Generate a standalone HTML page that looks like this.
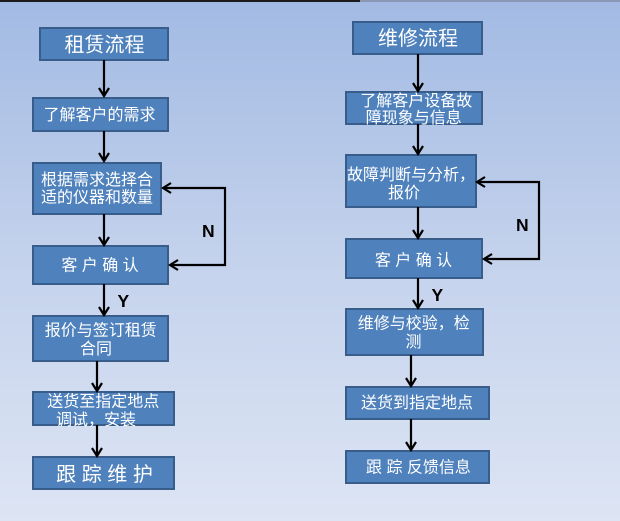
<!DOCTYPE html>
<html>
<head>
<meta charset="utf-8">
<style>
  html, body { margin:0; padding:0; }
  body { width:620px; height:521px; overflow:hidden; }
  svg { display:block; }
  .t { font-family: "Liberation Sans", "Noto Sans CJK SC", sans-serif; fill:#ffffff; }
  .lbl { font-family: "Liberation Sans", sans-serif; font-weight:bold; fill:#000; font-size:17.5px; }
  .bx { fill:#4F81BD; stroke:#385D8A; stroke-width:2; }
  .ln { stroke:#000; stroke-width:2.2; fill:none; stroke-linecap:butt; stroke-linejoin:miter; }
</style>
</head>
<body>
<svg width="620" height="521" viewBox="0 0 620 521" xmlns="http://www.w3.org/2000/svg">
  <defs>
    <linearGradient id="bg" x1="0" y1="0" x2="0" y2="1">
      <stop offset="0" stop-color="#A2BAE3"/>
      <stop offset="0.5" stop-color="#C4D2EC"/>
      <stop offset="1" stop-color="#DDE5F4"/>
    </linearGradient>
  </defs>
  <rect x="0" y="0" width="620" height="521" fill="url(#bg)"/>
  <rect x="0" y="0" width="360" height="2" fill="#1a1a1a"/>
  <rect x="360" y="0" width="260" height="2" fill="#8a98b5"/>

  <!-- LEFT COLUMN boxes -->
  <rect class="bx" x="40" y="28" width="128" height="32"/>
  <rect class="bx" x="33" y="98" width="135" height="33"/>
  <rect class="bx" x="33" y="163" width="128" height="51"/>
  <rect class="bx" x="33" y="246" width="135" height="38"/>
  <rect class="bx" x="33" y="316" width="135" height="45"/>
  <rect class="bx" x="33" y="392" width="141" height="33"/>
  <rect class="bx" x="33" y="457" width="141" height="32"/>

  <!-- RIGHT COLUMN boxes -->
  <rect class="bx" x="353" y="22" width="129" height="32"/>
  <rect class="bx" x="346" y="92" width="136" height="32"/>
  <rect class="bx" x="346" y="155" width="130" height="52"/>
  <rect class="bx" x="346" y="239" width="136" height="39"/>
  <rect class="bx" x="346" y="309" width="137" height="46"/>
  <rect class="bx" x="346" y="387" width="143" height="32"/>
  <rect class="bx" x="346" y="451" width="143" height="32"/>

  <!-- LEFT arrows -->
  <path class="ln" d="M104 60 V96 M99 88 L104 96 L109 88"/>
  <path class="ln" d="M104 131 V161 M99 153 L104 161 L109 153"/>
  <path class="ln" d="M104 214 V245 M99 237 L104 245 L109 237"/>
  <path class="ln" d="M104 284 V315 M99 307 L104 315 L109 307"/>
  <path class="ln" d="M97 361 V391 M92 383 L97 391 L102 383"/>
  <path class="ln" d="M97 425 V456 M92 448 L97 456 L102 448"/>
  <!-- left loop -->
  <path class="ln" d="M163 188 H225 V265 H170"/>
  <path class="ln" d="M171 183 L163 188 L171 193"/>
  <path class="ln" d="M178 260 L170 265 L178 270"/>

  <!-- RIGHT arrows -->
  <path class="ln" d="M418 54 V91 M413 83 L418 91 L423 83"/>
  <path class="ln" d="M418 124 V154 M413 146 L418 154 L423 146"/>
  <path class="ln" d="M418 207 V238 M413 230 L418 238 L423 230"/>
  <path class="ln" d="M418 278 V308 M413 300 L418 308 L423 300"/>
  <path class="ln" d="M411 355 V386 M406 378 L411 386 L416 378"/>
  <path class="ln" d="M411 419 V450 M406 442 L411 450 L416 442"/>
  <!-- right loop -->
  <path class="ln" d="M477 182 H539 V259 H484"/>
  <path class="ln" d="M485 177 L477 182 L485 187"/>
  <path class="ln" d="M492 254 L484 259 L492 264"/>

  <!-- labels N / Y -->
  <text class="lbl" x="202" y="237">N</text>
  <text class="lbl" x="516" y="231">N</text>
  <text class="lbl" x="117.5" y="307">Y</text>
  <text class="lbl" x="431.5" y="301">Y</text>

  <!-- LEFT texts -->
  <text class="t" font-size="20" x="104.5" y="51.6" text-anchor="middle">租赁流程</text>
  <text class="t" font-size="16" x="99.5" y="120" text-anchor="middle">了解客户的需求</text>
  <text class="t" font-size="16" x="97" y="185" text-anchor="middle">根据需求选择合</text>
  <text class="t" font-size="16" x="97" y="202.5" text-anchor="middle">适的仪器和数量</text>
  <text class="t" font-size="16" x="100" y="270.4" text-anchor="middle">客 户 确 认</text>
  <text class="t" font-size="16" x="100.8" y="335.6" text-anchor="middle">报价与签订租赁</text>
  <text class="t" font-size="16" x="96" y="354" text-anchor="middle">合同</text>
  <text class="t" font-size="16" x="103.3" y="406.6" text-anchor="middle">送货至指定地点</text>
  <text class="t" font-size="16" x="96" y="424.8" text-anchor="middle">调试，安装</text>
  <text class="t" font-size="20" x="104.5" y="481" text-anchor="middle">跟 踪 维 护</text>

  <!-- RIGHT texts -->
  <text class="t" font-size="20" x="418" y="45.1" text-anchor="middle">维修流程</text>
  <text class="t" font-size="16" x="416.3" y="106.1" text-anchor="middle">了解客户设备故</text>
  <text class="t" font-size="16" x="413.7" y="123.1" text-anchor="middle">障现象与信息</text>
  <text class="t" font-size="16" x="411" y="180.1" text-anchor="middle">故障判断与分析，</text>
  <text class="t" font-size="16" x="388" y="198.1">报价</text>
  <text class="t" font-size="16" x="413.5" y="265.4" text-anchor="middle">客 户 确 认</text>
  <text class="t" font-size="16" x="413.7" y="328.6" text-anchor="middle">维修与校验，检</text>
  <text class="t" font-size="16" x="413.5" y="347.1" text-anchor="middle">测</text>
  <text class="t" font-size="16" x="417" y="408.1" text-anchor="middle">送货到指定地点</text>
  <text class="t" font-size="16" x="366" y="472.6">跟 踪 反馈信息</text>
</svg>
</body>
</html>
